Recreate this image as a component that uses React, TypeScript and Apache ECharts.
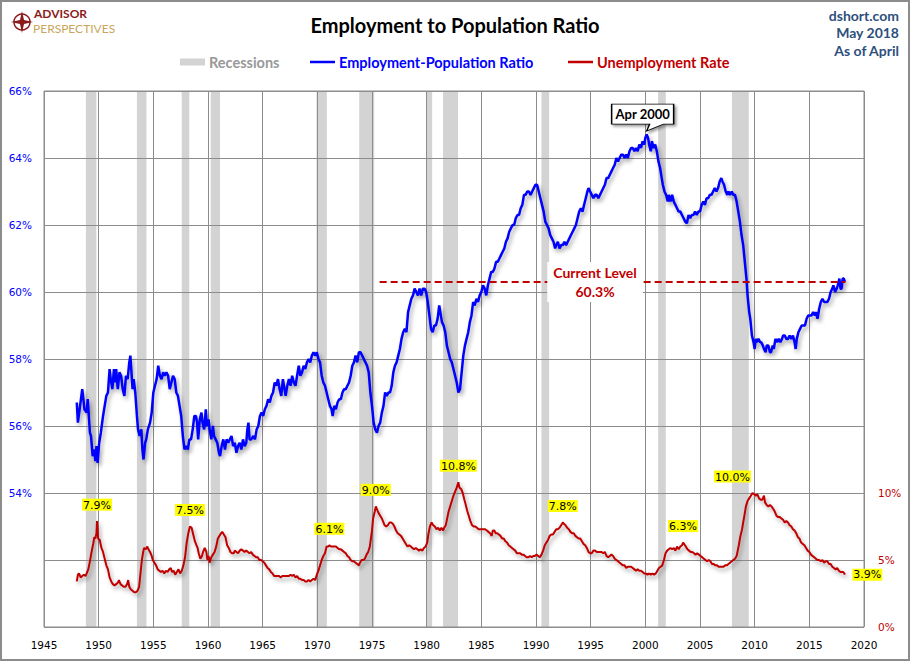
import React, { useEffect, useRef } from "react";
import * as echarts from "echarts";

// ---- data ----
const recessionStarts = [1948.83, 1953.5, 1957.6, 1960.25, 1969.92, 1973.83, 1980.0, 1981.5, 1990.5, 2001.17, 2007.92];
const recessionEnds = [1949.79, 1954.37, 1958.29, 1961.1, 1970.87, 1975.2, 1980.5, 1982.87, 1991.2, 2001.87, 2009.46];

const employmentPopulationRatio: [number, number][] = [
  [1948.0, 56.7], [1948.1, 56.1], [1948.3, 56.6], [1948.5, 57.1], [1948.7, 56.5], [1948.9, 56.4], [1949.0, 56.8],
  [1949.2, 55.8], [1949.3, 55.7], [1949.45, 55.1], [1949.6, 55.3], [1949.7, 54.95], [1949.8, 55.4], [1949.9, 54.9],
  [1950.05, 55.5], [1950.2, 55.8], [1950.4, 56.3], [1950.55, 56.6], [1950.7, 56.9], [1950.85, 57.0], [1951.0, 57.7],
  [1951.1, 57.4], [1951.25, 57.1], [1951.4, 57.7], [1951.5, 57.3], [1951.6, 57.7], [1951.75, 57.1], [1951.9, 57.6],
  [1952.05, 57.5], [1952.2, 57.1], [1952.35, 56.9], [1952.5, 57.5], [1952.65, 57.4], [1952.8, 57.9], [1952.9, 58.1],
  [1953.0, 57.6], [1953.1, 57.1], [1953.2, 57.4], [1953.35, 57.0], [1953.5, 56.3], [1953.6, 55.9], [1953.75, 55.7],
  [1953.9, 55.9], [1954.0, 55.3], [1954.1, 55.0], [1954.25, 55.5], [1954.35, 55.6], [1954.5, 55.9], [1954.7, 56.1],
  [1954.85, 56.4], [1955.0, 57.0], [1955.15, 57.2], [1955.3, 57.4], [1955.45, 57.8], [1955.6, 57.5], [1955.75, 57.4],
  [1955.9, 57.6], [1956.05, 57.5], [1956.2, 57.6], [1956.35, 57.5], [1956.5, 57.1], [1956.65, 57.3], [1956.8, 57.5],
  [1956.95, 57.4], [1957.1, 57.0], [1957.25, 56.9], [1957.4, 56.6], [1957.55, 56.3], [1957.7, 55.7], [1957.85, 55.3],
  [1958.0, 55.4], [1958.15, 55.3], [1958.3, 55.6], [1958.45, 55.6], [1958.6, 55.9], [1958.75, 56.3], [1958.9, 56.3],
  [1959.0, 56.1], [1959.1, 55.6], [1959.25, 56.2], [1959.4, 56.4], [1959.5, 56.1], [1959.65, 55.9], [1959.8, 56.5],
  [1959.9, 56.0], [1960.05, 56.2], [1960.15, 55.9], [1960.3, 55.6], [1960.45, 56.0], [1960.55, 55.7], [1960.7, 55.6],
  [1960.85, 55.5], [1961.0, 55.2], [1961.1, 55.1], [1961.25, 55.4], [1961.4, 55.6], [1961.55, 55.3], [1961.7, 55.6],
  [1961.85, 55.5], [1962.0, 55.6], [1962.15, 55.7], [1962.3, 55.4], [1962.45, 55.5], [1962.6, 55.2], [1962.75, 55.4],
  [1962.9, 55.5], [1963.05, 55.3], [1963.2, 55.6], [1963.35, 55.4], [1963.5, 55.5], [1963.6, 55.9], [1963.7, 56.1],
  [1963.8, 55.6], [1963.95, 55.6], [1964.15, 55.7], [1964.3, 55.6], [1964.45, 55.9], [1964.6, 56.0], [1964.75, 56.3],
  [1964.9, 56.4], [1965.05, 56.3], [1965.2, 56.5], [1965.35, 56.6], [1965.5, 56.8], [1965.65, 56.7], [1965.8, 56.9],
  [1965.95, 57.0], [1966.1, 57.3], [1966.25, 57.2], [1966.4, 57.4], [1966.55, 57.1], [1966.7, 56.9], [1966.85, 57.4],
  [1967.0, 57.1], [1967.1, 56.9], [1967.25, 57.2], [1967.4, 57.4], [1967.55, 57.2], [1967.7, 57.5], [1967.85, 57.3],
  [1968.0, 57.2], [1968.15, 57.5], [1968.3, 57.8], [1968.45, 57.5], [1968.6, 57.6], [1968.75, 57.8], [1968.9, 57.7],
  [1969.05, 57.9], [1969.2, 58.0], [1969.35, 57.9], [1969.5, 58.1], [1969.65, 58.2], [1969.8, 58.1], [1969.95, 58.2],
  [1970.1, 58.0], [1970.25, 57.9], [1970.4, 57.5], [1970.55, 57.3], [1970.7, 57.2], [1970.85, 57.0], [1971.0, 56.8],
  [1971.15, 56.6], [1971.3, 56.5], [1971.4, 56.3], [1971.55, 56.6], [1971.7, 56.5], [1971.85, 56.7], [1972.0, 56.8],
  [1972.15, 56.8], [1972.3, 57.0], [1972.45, 57.1], [1972.6, 57.1], [1972.75, 57.2], [1972.9, 57.3], [1973.05, 57.5],
  [1973.2, 57.8], [1973.35, 57.9], [1973.5, 58.1], [1973.65, 57.9], [1973.8, 58.2], [1973.95, 58.2], [1974.1, 58.1],
  [1974.25, 58.0], [1974.4, 57.9], [1974.55, 57.8], [1974.7, 57.6], [1974.85, 57.0], [1975.0, 56.6], [1975.15, 56.1],
  [1975.3, 55.9], [1975.45, 55.8], [1975.6, 56.0], [1975.75, 56.1], [1975.9, 56.4], [1976.05, 56.6], [1976.2, 57.0],
  [1976.35, 56.9], [1976.5, 57.0], [1976.65, 57.0], [1976.8, 57.2], [1976.95, 57.6], [1977.1, 57.8], [1977.25, 57.9],
  [1977.4, 58.1], [1977.55, 58.3], [1977.7, 58.6], [1977.85, 58.8], [1978.0, 58.9], [1978.15, 58.8], [1978.3, 59.4],
  [1978.45, 59.6], [1978.6, 59.8], [1978.75, 59.9], [1978.9, 60.1], [1979.05, 60.0], [1979.2, 59.9], [1979.35, 60.1],
  [1979.5, 59.9], [1979.65, 60.1], [1979.8, 60.1], [1979.95, 60.0], [1980.1, 59.7], [1980.25, 59.3], [1980.4, 58.9],
  [1980.55, 58.8], [1980.7, 59.0], [1980.85, 59.0], [1981.0, 59.2], [1981.15, 59.6], [1981.25, 59.4], [1981.4, 59.1],
  [1981.55, 59.0], [1981.7, 58.8], [1981.85, 58.4], [1982.0, 58.2], [1982.15, 58.0], [1982.3, 57.9], [1982.45, 57.7],
  [1982.6, 57.5], [1982.75, 57.3], [1982.9, 57.0], [1983.05, 57.1], [1983.2, 57.6], [1983.35, 58.1], [1983.5, 58.4],
  [1983.65, 58.6], [1983.8, 58.8], [1983.95, 59.1], [1984.1, 59.3], [1984.25, 59.7], [1984.4, 59.6], [1984.55, 59.8],
  [1984.7, 59.7], [1984.85, 59.9], [1985.0, 60.0], [1985.15, 60.2], [1985.3, 60.1], [1985.45, 59.9], [1985.6, 60.2],
  [1985.75, 60.4], [1985.9, 60.6], [1986.05, 60.6], [1986.2, 60.7], [1986.35, 60.9], [1986.5, 60.9], [1986.65, 61.0],
  [1986.8, 61.1], [1986.95, 61.2], [1987.1, 61.3], [1987.25, 61.5], [1987.4, 61.6], [1987.55, 61.8], [1987.7, 61.9],
  [1987.85, 62.0], [1988.0, 62.0], [1988.15, 62.2], [1988.3, 62.3], [1988.45, 62.3], [1988.6, 62.5], [1988.75, 62.6],
  [1988.9, 62.9], [1989.05, 62.9], [1989.2, 63.0], [1989.35, 63.0], [1989.5, 62.9], [1989.65, 63.0], [1989.8, 63.1],
  [1989.95, 63.2], [1990.1, 63.2], [1990.25, 63.0], [1990.4, 62.8], [1990.55, 62.6], [1990.7, 62.4], [1990.85, 62.1],
  [1991.0, 62.0], [1991.15, 61.9], [1991.3, 61.7], [1991.45, 61.6], [1991.6, 61.5], [1991.75, 61.3], [1991.85, 61.4],
  [1992.0, 61.5], [1992.15, 61.3], [1992.3, 61.4], [1992.45, 61.4], [1992.6, 61.5], [1992.75, 61.4], [1992.9, 61.5],
  [1993.05, 61.6], [1993.2, 61.7], [1993.35, 61.8], [1993.5, 61.9], [1993.65, 62.0], [1993.8, 62.2], [1993.95, 62.4],
  [1994.1, 62.5], [1994.25, 62.4], [1994.4, 62.6], [1994.55, 62.8], [1994.7, 63.0], [1994.8, 63.1], [1994.95, 63.0],
  [1995.1, 62.9], [1995.25, 62.8], [1995.4, 62.9], [1995.55, 62.9], [1995.7, 62.8], [1995.85, 62.9], [1996.0, 63.0],
  [1996.15, 63.1], [1996.3, 63.2], [1996.45, 63.4], [1996.6, 63.4], [1996.75, 63.5], [1996.9, 63.6], [1997.05, 63.7],
  [1997.2, 63.8], [1997.35, 64.0], [1997.5, 63.9], [1997.65, 64.0], [1997.8, 64.1], [1997.95, 64.1], [1998.1, 64.0],
  [1998.25, 64.1], [1998.4, 64.0], [1998.55, 64.2], [1998.7, 64.3], [1998.85, 64.3], [1999.0, 64.2], [1999.15, 64.3],
  [1999.3, 64.2], [1999.45, 64.4], [1999.6, 64.3], [1999.75, 64.5], [1999.9, 64.4], [2000.0, 64.6], [2000.12, 64.7],
  [2000.25, 64.6], [2000.35, 64.4], [2000.5, 64.2], [2000.6, 64.5], [2000.75, 64.3], [2000.9, 64.4], [2001.05, 64.2],
  [2001.2, 63.9], [2001.35, 63.7], [2001.5, 63.4], [2001.6, 63.2], [2001.75, 63.0], [2001.9, 62.9], [2002.05, 62.7],
  [2002.15, 62.9], [2002.3, 62.7], [2002.45, 62.9], [2002.6, 62.7], [2002.75, 62.6], [2002.9, 62.5], [2003.05, 62.4],
  [2003.2, 62.4], [2003.35, 62.3], [2003.5, 62.2], [2003.65, 62.1], [2003.8, 62.05], [2003.95, 62.3], [2004.1, 62.2],
  [2004.25, 62.3], [2004.4, 62.3], [2004.55, 62.4], [2004.7, 62.3], [2004.85, 62.4], [2005.0, 62.4], [2005.15, 62.6],
  [2005.3, 62.7], [2005.45, 62.6], [2005.6, 62.8], [2005.75, 62.8], [2005.9, 62.9], [2006.05, 62.9], [2006.2, 63.0],
  [2006.35, 63.1], [2006.5, 63.0], [2006.65, 63.1], [2006.8, 63.3], [2006.95, 63.4], [2007.05, 63.3], [2007.2, 63.2],
  [2007.35, 63.0], [2007.5, 62.9], [2007.6, 63.0], [2007.75, 62.9], [2007.9, 63.0], [2008.05, 62.9], [2008.2, 62.9],
  [2008.35, 62.7], [2008.5, 62.4], [2008.65, 62.1], [2008.8, 61.7], [2008.95, 61.4], [2009.1, 60.9], [2009.25, 60.4],
  [2009.35, 59.9], [2009.5, 59.4], [2009.6, 59.2], [2009.75, 58.7], [2009.9, 58.5], [2010.0, 58.3], [2010.1, 58.6],
  [2010.2, 58.5], [2010.35, 58.6], [2010.5, 58.5], [2010.6, 58.5], [2010.75, 58.4], [2010.85, 58.3], [2011.0, 58.2],
  [2011.1, 58.4], [2011.25, 58.4], [2011.4, 58.2], [2011.5, 58.2], [2011.65, 58.4], [2011.75, 58.3], [2011.9, 58.6],
  [2012.05, 58.5], [2012.2, 58.6], [2012.35, 58.5], [2012.5, 58.6], [2012.6, 58.7], [2012.75, 58.7], [2012.9, 58.6],
  [2013.05, 58.6], [2013.2, 58.7], [2013.35, 58.6], [2013.5, 58.7], [2013.65, 58.5], [2013.75, 58.3], [2013.85, 58.6],
  [2014.0, 58.8], [2014.15, 58.9], [2014.3, 59.0], [2014.45, 59.0], [2014.6, 59.0], [2014.75, 59.2], [2014.9, 59.3],
  [2015.05, 59.3], [2015.2, 59.3], [2015.35, 59.4], [2015.5, 59.3], [2015.6, 59.4], [2015.75, 59.2], [2015.9, 59.5],
  [2016.05, 59.7], [2016.2, 59.8], [2016.35, 59.7], [2016.5, 59.7], [2016.65, 59.7], [2016.8, 59.8], [2016.95, 60.0],
  [2017.1, 60.1], [2017.2, 60.2], [2017.35, 60.0], [2017.5, 60.1], [2017.6, 60.2], [2017.75, 60.4], [2017.85, 60.1],
  [2017.95, 60.1], [2018.05, 60.4], [2018.15, 60.4], [2018.25, 60.3],
];

const unemploymentRate: [number, number][] = [
  [1948.0, 3.4], [1948.1, 3.9], [1948.2, 4.0], [1948.35, 3.7], [1948.5, 3.8], [1948.65, 3.9], [1948.8, 3.8],
  [1948.9, 4.0], [1949.05, 4.3], [1949.2, 4.9], [1949.35, 5.6], [1949.5, 6.2], [1949.6, 6.7], [1949.7, 6.6],
  [1949.8, 7.0], [1949.85, 7.9], [1949.95, 6.6], [1950.1, 6.5], [1950.25, 5.9], [1950.4, 5.6], [1950.55, 5.1],
  [1950.7, 4.6], [1950.85, 4.3], [1951.0, 3.7], [1951.15, 3.4], [1951.3, 3.2], [1951.45, 3.1], [1951.6, 3.2],
  [1951.75, 3.3], [1951.85, 3.5], [1952.0, 3.2], [1952.15, 3.1], [1952.3, 3.0], [1952.45, 3.0], [1952.6, 3.2],
  [1952.7, 3.5], [1952.8, 3.0], [1952.95, 2.8], [1953.1, 2.7], [1953.25, 2.6], [1953.4, 2.6], [1953.55, 2.7],
  [1953.7, 3.0], [1953.85, 4.2], [1953.95, 5.0], [1954.05, 5.5], [1954.15, 5.9], [1954.3, 5.8], [1954.45, 6.0],
  [1954.55, 5.8], [1954.7, 5.6], [1954.85, 5.3], [1954.95, 5.0], [1955.1, 4.8], [1955.25, 4.6], [1955.4, 4.3],
  [1955.55, 4.2], [1955.7, 4.1], [1955.85, 4.2], [1956.0, 4.0], [1956.15, 4.2], [1956.3, 4.1], [1956.45, 4.3],
  [1956.6, 4.4], [1956.7, 4.1], [1956.85, 4.2], [1957.0, 3.9], [1957.15, 4.1], [1957.3, 4.3], [1957.45, 4.0],
  [1957.6, 4.2], [1957.75, 4.6], [1957.9, 5.2], [1958.05, 6.3], [1958.2, 7.0], [1958.35, 7.5], [1958.5, 7.4],
  [1958.65, 6.9], [1958.8, 6.4], [1958.95, 6.1], [1959.05, 5.9], [1959.15, 5.5], [1959.3, 5.1], [1959.45, 5.3],
  [1959.55, 5.6], [1959.7, 5.9], [1959.85, 5.6], [1959.95, 5.0], [1960.05, 5.3], [1960.15, 4.8], [1960.3, 5.2],
  [1960.45, 5.4], [1960.6, 5.6], [1960.75, 6.0], [1960.9, 6.6], [1961.05, 6.8], [1961.2, 7.0], [1961.3, 7.1],
  [1961.45, 6.9], [1961.6, 6.7], [1961.75, 6.1], [1961.9, 5.9], [1962.05, 5.6], [1962.2, 5.5], [1962.35, 5.5],
  [1962.45, 5.7], [1962.6, 5.6], [1962.75, 5.5], [1962.9, 5.7], [1963.05, 5.8], [1963.2, 5.7], [1963.35, 5.6],
  [1963.5, 5.7], [1963.65, 5.6], [1963.8, 5.5], [1963.95, 5.6], [1964.1, 5.4], [1964.25, 5.3], [1964.4, 5.2],
  [1964.55, 5.2], [1964.7, 5.0], [1964.85, 5.0], [1965.0, 4.9], [1965.15, 4.8], [1965.3, 4.6], [1965.45, 4.4],
  [1965.6, 4.3], [1965.75, 4.1], [1965.9, 4.0], [1966.05, 3.8], [1966.2, 3.8], [1966.35, 3.8], [1966.5, 3.8],
  [1966.65, 3.7], [1966.8, 3.8], [1966.95, 3.8], [1967.1, 3.8], [1967.25, 3.8], [1967.4, 3.8], [1967.55, 3.9],
  [1967.7, 3.8], [1967.85, 3.9], [1968.0, 3.7], [1968.15, 3.8], [1968.3, 3.6], [1968.45, 3.6], [1968.6, 3.5],
  [1968.75, 3.5], [1968.9, 3.4], [1969.05, 3.4], [1969.2, 3.5], [1969.35, 3.4], [1969.5, 3.5], [1969.65, 3.6],
  [1969.8, 3.5], [1969.95, 3.9], [1970.1, 4.2], [1970.25, 4.6], [1970.4, 5.0], [1970.55, 5.3], [1970.7, 5.5],
  [1970.85, 6.0], [1971.0, 6.0], [1971.1, 6.1], [1971.25, 6.0], [1971.4, 6.0], [1971.55, 6.0], [1971.7, 6.0],
  [1971.85, 5.9], [1972.0, 5.8], [1972.15, 5.8], [1972.3, 5.7], [1972.45, 5.6], [1972.6, 5.5], [1972.75, 5.3],
  [1972.9, 5.2], [1973.05, 5.0], [1973.2, 4.9], [1973.35, 4.9], [1973.5, 4.8], [1973.65, 4.7], [1973.8, 4.6],
  [1973.9, 4.8], [1974.05, 5.0], [1974.2, 5.0], [1974.35, 5.1], [1974.5, 5.4], [1974.65, 5.6], [1974.8, 6.0],
  [1974.9, 6.6], [1975.0, 7.2], [1975.1, 8.1], [1975.25, 8.6], [1975.35, 9.0], [1975.45, 8.8], [1975.6, 8.5],
  [1975.75, 8.3], [1975.9, 8.1], [1976.0, 7.9], [1976.15, 7.6], [1976.3, 7.5], [1976.45, 7.6], [1976.6, 7.8],
  [1976.75, 7.8], [1976.9, 7.7], [1977.05, 7.5], [1977.2, 7.2], [1977.35, 7.0], [1977.5, 6.9], [1977.65, 6.8],
  [1977.8, 6.6], [1977.95, 6.4], [1978.1, 6.2], [1978.25, 6.0], [1978.4, 6.1], [1978.55, 6.0], [1978.7, 5.9],
  [1978.85, 5.8], [1979.0, 5.9], [1979.15, 5.8], [1979.3, 5.7], [1979.45, 5.8], [1979.6, 5.7], [1979.75, 5.9],
  [1979.9, 6.0], [1980.05, 6.3], [1980.15, 6.9], [1980.3, 7.5], [1980.45, 7.8], [1980.6, 7.6], [1980.75, 7.5],
  [1980.9, 7.3], [1981.05, 7.4], [1981.2, 7.2], [1981.35, 7.4], [1981.5, 7.2], [1981.6, 7.4], [1981.75, 7.6],
  [1981.9, 8.2], [1982.0, 8.6], [1982.15, 9.0], [1982.3, 9.4], [1982.45, 9.8], [1982.6, 10.1], [1982.75, 10.4],
  [1982.9, 10.8], [1983.0, 10.4], [1983.15, 10.3], [1983.3, 10.0], [1983.45, 9.5], [1983.55, 9.2], [1983.7, 8.7],
  [1983.85, 8.3], [1984.0, 7.9], [1984.15, 7.6], [1984.3, 7.5], [1984.45, 7.5], [1984.6, 7.4], [1984.75, 7.3],
  [1984.9, 7.3], [1985.05, 7.3], [1985.2, 7.3], [1985.35, 7.3], [1985.5, 7.2], [1985.65, 7.1], [1985.8, 7.0],
  [1985.95, 6.8], [1986.05, 7.2], [1986.2, 7.2], [1986.3, 7.0], [1986.45, 7.0], [1986.6, 6.9], [1986.75, 6.8],
  [1986.9, 6.6], [1987.05, 6.6], [1987.2, 6.4], [1987.35, 6.3], [1987.5, 6.1], [1987.65, 6.0], [1987.8, 5.9],
  [1987.95, 5.8], [1988.1, 5.7], [1988.25, 5.5], [1988.4, 5.5], [1988.55, 5.5], [1988.7, 5.4], [1988.85, 5.4],
  [1989.0, 5.3], [1989.15, 5.2], [1989.3, 5.2], [1989.45, 5.3], [1989.6, 5.2], [1989.75, 5.3], [1989.9, 5.3],
  [1990.05, 5.4], [1990.2, 5.3], [1990.35, 5.2], [1990.5, 5.4], [1990.65, 5.7], [1990.8, 6.1], [1990.95, 6.3],
  [1991.1, 6.5], [1991.25, 6.8], [1991.4, 6.9], [1991.55, 6.9], [1991.7, 7.1], [1991.85, 7.3], [1992.0, 7.3],
  [1992.15, 7.4], [1992.3, 7.6], [1992.45, 7.8], [1992.55, 7.7], [1992.7, 7.6], [1992.85, 7.4], [1993.0, 7.3],
  [1993.15, 7.1], [1993.3, 7.0], [1993.45, 7.0], [1993.6, 6.8], [1993.75, 6.7], [1993.9, 6.6], [1994.05, 6.6],
  [1994.2, 6.4], [1994.35, 6.2], [1994.5, 6.1], [1994.65, 5.9], [1994.8, 5.6], [1994.95, 5.5], [1995.1, 5.5],
  [1995.25, 5.7], [1995.4, 5.7], [1995.55, 5.6], [1995.7, 5.6], [1995.85, 5.6], [1996.0, 5.6], [1996.15, 5.5],
  [1996.3, 5.6], [1996.45, 5.3], [1996.6, 5.2], [1996.75, 5.3], [1996.9, 5.4], [1997.05, 5.3], [1997.2, 5.1],
  [1997.35, 5.0], [1997.5, 4.9], [1997.65, 4.8], [1997.8, 4.7], [1997.95, 4.6], [1998.1, 4.6], [1998.25, 4.4],
  [1998.4, 4.5], [1998.55, 4.5], [1998.7, 4.5], [1998.85, 4.4], [1999.0, 4.3], [1999.15, 4.2], [1999.3, 4.3],
  [1999.45, 4.2], [1999.6, 4.2], [1999.75, 4.1], [1999.9, 4.0], [2000.05, 4.0], [2000.2, 3.9], [2000.35, 4.0],
  [2000.5, 3.9], [2000.65, 4.0], [2000.8, 3.9], [2000.95, 4.0], [2001.1, 4.2], [2001.25, 4.4], [2001.4, 4.5],
  [2001.55, 4.6], [2001.7, 5.0], [2001.85, 5.5], [2002.0, 5.7], [2002.15, 5.8], [2002.3, 5.9], [2002.45, 5.8],
  [2002.6, 5.9], [2002.75, 5.7], [2002.9, 6.0], [2003.05, 5.8], [2003.2, 6.0], [2003.35, 6.1], [2003.45, 6.3],
  [2003.55, 6.2], [2003.7, 6.0], [2003.85, 5.8], [2004.0, 5.7], [2004.15, 5.6], [2004.3, 5.6], [2004.45, 5.5],
  [2004.6, 5.4], [2004.75, 5.5], [2004.9, 5.4], [2005.05, 5.3], [2005.2, 5.2], [2005.35, 5.1], [2005.5, 5.0],
  [2005.65, 4.9], [2005.8, 5.0], [2005.95, 4.9], [2006.1, 4.7], [2006.25, 4.7], [2006.4, 4.6], [2006.55, 4.6],
  [2006.7, 4.5], [2006.85, 4.5], [2007.0, 4.5], [2007.15, 4.5], [2007.3, 4.6], [2007.45, 4.6], [2007.6, 4.7],
  [2007.75, 4.8], [2007.9, 4.9], [2008.05, 5.0], [2008.2, 5.1], [2008.35, 5.3], [2008.45, 5.7], [2008.55, 6.1],
  [2008.7, 6.8], [2008.85, 7.3], [2008.95, 7.8], [2009.1, 8.5], [2009.2, 9.0], [2009.35, 9.4], [2009.5, 9.6],
  [2009.65, 9.8], [2009.8, 10.0], [2009.95, 9.9], [2010.1, 9.8], [2010.25, 9.9], [2010.4, 9.6], [2010.55, 9.5],
  [2010.7, 9.5], [2010.85, 9.8], [2010.95, 9.3], [2011.1, 9.1], [2011.25, 9.0], [2011.4, 9.1], [2011.55, 9.0],
  [2011.7, 8.8], [2011.85, 8.6], [2012.0, 8.3], [2012.15, 8.2], [2012.3, 8.2], [2012.45, 8.1], [2012.6, 8.0],
  [2012.75, 7.8], [2012.9, 7.9], [2013.05, 7.8], [2013.2, 7.6], [2013.35, 7.5], [2013.5, 7.3], [2013.65, 7.2],
  [2013.8, 7.0], [2013.95, 6.7], [2014.1, 6.6], [2014.25, 6.3], [2014.4, 6.2], [2014.55, 6.1], [2014.7, 5.9],
  [2014.85, 5.7], [2015.0, 5.6], [2015.15, 5.4], [2015.3, 5.3], [2015.45, 5.2], [2015.6, 5.1], [2015.75, 5.0],
  [2015.9, 5.0], [2016.05, 4.9], [2016.2, 5.0], [2016.35, 4.8], [2016.5, 4.9], [2016.65, 4.9], [2016.8, 4.7],
  [2016.95, 4.7], [2017.1, 4.5], [2017.25, 4.4], [2017.4, 4.3], [2017.55, 4.4], [2017.7, 4.2], [2017.85, 4.1],
  [2018.0, 4.1], [2018.1, 4.1], [2018.2, 4.0], [2018.25, 3.9],
];

// annotated unemployment peaks
const peakYears = [1949.85, 1958.35, 1971.1, 1975.35, 1982.9, 1992.45, 2003.45, 2009.8, 2018.25];
const peakValues = [7.9, 7.5, 6.1, 9.0, 10.8, 7.8, 6.3, 10.0, 3.9];
const peakLabels = ["7.9%", "7.5%", "6.1%", "9.0%", "10.8%", "7.8%", "6.3%", "10.0%", "3.9%"];

const currentLevel = 60.3;
const currentLevelStart = 1975.7;
const currentLevelEnd = 2018.3;
const currentLevelLabelYear = 1995.4;

const peakEmpYear = 2000.12;
const peakEmpValue = 64.7;

const titleText = "Employment to Population Ratio";
const sourceLines = ["dshort.com", "May 2018", "As of April"];
const legendNames = ["Recessions", "Employment-Population Ratio", "Unemployment Rate"];

const BLUE = "#0000ff";
const RED = "#c00000";
const GRID = "#8c8c8c";
const REC = "#d3d3d3";
const AXIS_FONT = "DejaVu Sans";
const TEXT_FONT = "Lato";

export default function App() {
  const ref = useRef<HTMLDivElement>(null);

  useEffect(() => {
    if (!ref.current) return;
    const chart = echarts.init(ref.current, null, { renderer: "svg" });

    const shadow = {
      shadowColor: "rgba(0,0,0,0.35)",
      shadowBlur: 4,
      shadowOffsetX: 2,
      shadowOffsetY: 3,
    };

    const yellowPoints = peakYears.map((yr, i) => {
      const isLast = i === peakYears.length - 1;
      const isTenZero = peakLabels[i] === "10.0%";
      return {
        coord: [yr, peakValues[i]],
        symbol: "circle",
        symbolSize: 1,
        itemStyle: { color: "rgba(0,0,0,0)" },
        label: {
          show: true,
          formatter: peakLabels[i],
          position: isLast ? "right" : "top",
          distance: isLast ? 7 : 10,
          offset: isTenZero ? [-20, 0] : [0, 0],
          backgroundColor: "#ffff00",
          color: "#000",
          fontFamily: AXIS_FONT,
          fontSize: 11,
          lineHeight: 11,
          padding: [1, 1, 0, 1],
        },
      };
    });

    const option: any = {
      animation: false,
      backgroundColor: "#ffffff",
      grid: {
        left: 44,
        right: 46,
        top: 91,
        bottom: 34,
        show: true,
        borderColor: GRID,
        borderWidth: 1,
        containLabel: false,
      },
      xAxis: {
        type: "value",
        min: 1945,
        max: 2020,
        interval: 5,
        axisLine: { show: false },
        axisTick: { show: false },
        splitLine: { show: true, lineStyle: { color: GRID, width: 1 } },
        axisLabel: {
          color: "#000",
          fontFamily: AXIS_FONT,
          fontSize: 10.5,
          margin: 12,
          formatter: (v: number) => String(v),
        },
      },
      yAxis: [
        {
          type: "value",
          min: 50,
          max: 66,
          interval: 2,
          position: "left",
          axisLine: { show: false },
          axisTick: { show: false },
          splitLine: { show: true, lineStyle: { color: GRID, width: 1 } },
          axisLabel: {
            color: BLUE,
            fontFamily: AXIS_FONT,
            fontSize: 10.5,
            margin: 12,
            formatter: (v: number) => (v >= 54 ? v + "%" : ""),
          },
        },
        {
          type: "value",
          min: 0,
          max: 40,
          interval: 5,
          position: "right",
          axisLine: { show: false },
          axisTick: { show: false },
          splitLine: { show: false },
          axisLabel: {
            color: RED,
            fontFamily: AXIS_FONT,
            fontSize: 10.5,
            margin: 14,
            formatter: (v: number) => (v <= 10 ? v + "%" : ""),
          },
        },
      ],
      graphic: [
        {
          type: "rect",
          shape: { x: 1, y: 1, width: 908, height: 659 },
          style: { fill: "none", stroke: "#8c8c8c", lineWidth: 2 },
          silent: true,
        },
        // logo
        {
          type: "circle",
          shape: { cx: 22, cy: 22, r: 8 },
          style: { fill: "none", stroke: "#8b1a1a", lineWidth: 1.5 },
        },
        {
          type: "polygon",
          shape: {
            points: [[22, 11], [24, 20], [33, 22], [24, 24], [22, 33], [20, 24], [11, 22], [20, 20]],
          },
          style: { fill: "#8b1a1a" },
        },
        {
          type: "text",
          x: 34,
          y: 13,
          style: { text: "ADVISOR", fontFamily: TEXT_FONT, fontWeight: "bold", fontSize: 12, fill: "#8b1a1a", align: "left", verticalAlign: "middle" },
        },
        {
          type: "text",
          x: 33,
          y: 28,
          style: { text: "PERSPECTIVES", fontFamily: TEXT_FONT, fontSize: 12, fill: "#c9a65c", align: "left", verticalAlign: "middle" },
        },
        // title
        {
          type: "text",
          x: 455,
          y: 25,
          style: { text: titleText, fontFamily: TEXT_FONT, fontWeight: "bold", fontSize: 20, fill: "#000", align: "center", verticalAlign: "middle" },
        },
        // source lines
        ...sourceLines.map((t, i) => ({
          type: "text",
          x: 899,
          y: 15 + i * 17.5,
          style: { text: t, fontFamily: TEXT_FONT, fontWeight: "bold", fontSize: 14, fill: "#2e4f7c", align: "right", verticalAlign: "middle" },
        })),
        // legend
        { type: "rect", shape: { x: 180, y: 58.5, width: 25, height: 7 }, style: { fill: REC } },
        {
          type: "text",
          x: 209,
          y: 62,
          style: { text: legendNames[0], fontFamily: TEXT_FONT, fontWeight: "bold", fontSize: 14.5, fill: "#999999", align: "left", verticalAlign: "middle" },
        },
        { type: "line", shape: { x1: 310, y1: 62, x2: 335, y2: 62 }, style: { stroke: BLUE, lineWidth: 2.5 } },
        {
          type: "text",
          x: 339,
          y: 62,
          style: { text: legendNames[1], fontFamily: TEXT_FONT, fontWeight: "bold", fontSize: 14.5, fill: BLUE, align: "left", verticalAlign: "middle" },
        },
        { type: "line", shape: { x1: 568, y1: 62, x2: 593, y2: 62 }, style: { stroke: RED, lineWidth: 2.5 } },
        {
          type: "text",
          x: 597,
          y: 62,
          style: { text: legendNames[2], fontFamily: TEXT_FONT, fontWeight: "bold", fontSize: 14.5, fill: RED, align: "left", verticalAlign: "middle" },
        },
      ],
      series: [
        {
          name: "Recessions",
          type: "custom",
          z: -1,
          silent: true,
          xAxisIndex: 0,
          yAxisIndex: 0,
          data: recessionStarts.map((s, i) => [s, recessionEnds[i]]),
          encode: { x: [0, 1] },
          renderItem: (params: any, api: any) => {
            const cs = params.coordSys;
            const p0 = api.coord([api.value(0), 66]);
            const p1 = api.coord([api.value(1), 66]);
            return {
              type: "rect",
              shape: { x: p0[0], y: cs.y, width: p1[0] - p0[0], height: cs.height },
              style: { fill: REC },
            };
          },
        },
        {
          name: "Employment-Population Ratio",
          type: "line",
          yAxisIndex: 0,
          data: employmentPopulationRatio,
          showSymbol: false,
          symbol: "none",
          lineStyle: { color: BLUE, width: 2.5, ...shadow },
          z: 4,
          markLine: {
            silent: true,
            symbol: ["none", "none"],
            z: 5,
            label: { show: false },
            lineStyle: { color: RED, width: 2, type: [7, 4] },
            data: [[{ coord: [currentLevelStart, currentLevel] }, { coord: [currentLevelEnd, currentLevel] }]],
          },
          markPoint: {
            silent: true,
            z: 7,
            data: [
              {
                coord: [currentLevelLabelYear, currentLevel],
                symbol: "circle",
                symbolSize: 1,
                itemStyle: { color: "rgba(0,0,0,0)" },
                label: {
                  show: true,
                  position: "inside",
                  formatter: "Current Level\n" + currentLevel.toFixed(1) + "%",
                  color: RED,
                  fontFamily: TEXT_FONT,
                  fontWeight: "bold",
                  fontSize: 14,
                  lineHeight: 19,
                  backgroundColor: "#ffffff",
                  padding: [1, 6, 1, 6],
                },
              },
              {
                coord: [peakEmpYear, peakEmpValue],
                symbol: "path://M0,0L62,0L62,20L52,20L35,27L38,20L0,20Z",
                symbolSize: [62, 27],
                symbolOffset: [-4, -17],
                itemStyle: {
                  color: "#ffffff",
                  borderColor: "#000000",
                  borderWidth: 1,
                  shadowColor: "rgba(0,0,0,0.4)",
                  shadowBlur: 3,
                  shadowOffsetX: 2,
                  shadowOffsetY: 2,
                },
                label: {
                  show: true,
                  position: "inside",
                  offset: [0, -3.5],
                  formatter: "Apr 2000",
                  color: "#000",
                  fontFamily: TEXT_FONT,
                  fontWeight: "bold",
                  fontSize: 13,
                },
              },
            ],
          },
        },
        {
          name: "Unemployment Rate",
          type: "line",
          yAxisIndex: 1,
          data: unemploymentRate,
          showSymbol: false,
          symbol: "none",
          lineStyle: { color: RED, width: 2, ...shadow },
          z: 3,
          markPoint: {
            silent: true,
            z: 6,
            data: yellowPoints,
          },
        },
      ],
    };

    chart.setOption(option);
    return () => chart.dispose();
  }, []);

  return <div ref={ref} style={{ position: "absolute", left: 0, top: 0, width: 910, height: 661 }} />;
}
